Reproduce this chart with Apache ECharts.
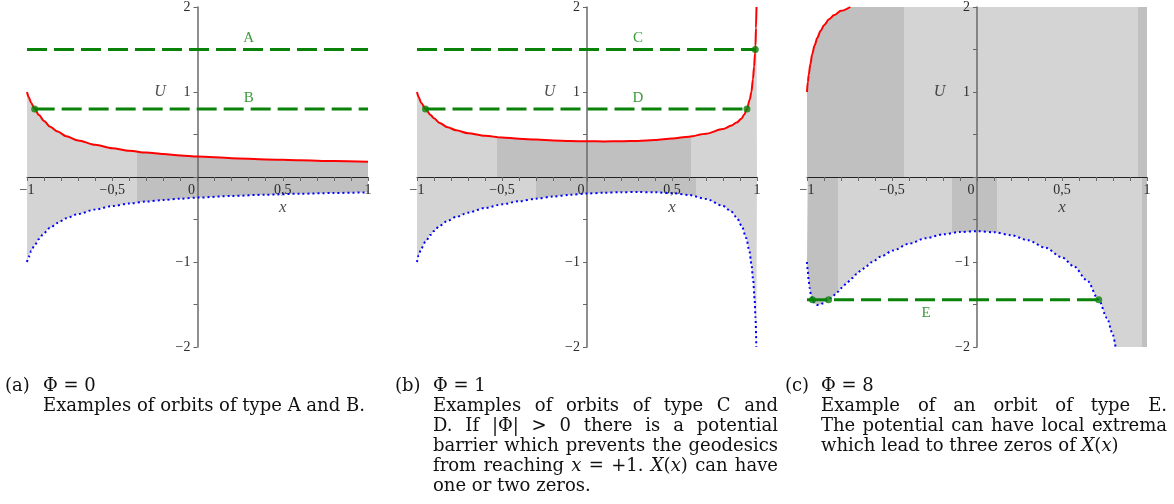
<!DOCTYPE html>
<html>
<head>
<meta charset="utf-8">
<script src="https://cdn.jsdelivr.net/npm/echarts@6/dist/echarts.min.js"></script>
<style>
  html, body { margin: 0; padding: 0; background: #fff; }
  #chart { width: 1174px; height: 504px; }
</style>
</head>
<body>
<div id="chart"></div>
<script>
// ---------------- data ----------------
// Effective potential branches U+(x) (red) and U-(x) (blue) for Phi = 0, 1, 8.
const redA = [[-1, 1.0], [-0.99, 0.94], [-0.975, 0.87], [-0.955, 0.80], [-0.93, 0.73], [-0.9, 0.66],
  [-0.867, 0.595], [-0.82, 0.535], [-0.77, 0.48], [-0.7, 0.43], [-0.6, 0.378], [-0.5, 0.338],
  [-0.4, 0.309], [-0.3, 0.287], [-0.2, 0.27], [-0.1, 0.254], [0, 0.241], [0.2, 0.222], [0.4, 0.207],
  [0.6, 0.196], [0.8, 0.187], [1, 0.18]];
const blueA = [[-1, -1.0], [-0.99, -0.94], [-0.975, -0.87], [-0.955, -0.80], [-0.93, -0.73],
  [-0.9, -0.66], [-0.867, -0.6], [-0.82, -0.54], [-0.77, -0.485], [-0.7, -0.435], [-0.6, -0.382],
  [-0.5, -0.342], [-0.4, -0.312], [-0.3, -0.289], [-0.2, -0.271], [-0.1, -0.255], [0, -0.242],
  [0.2, -0.223], [0.4, -0.208], [0.6, -0.197], [0.8, -0.188], [1, -0.18]];

const redB = [[-1, 1.0], [-0.99, 0.94], [-0.975, 0.87], [-0.95, 0.80], [-0.92, 0.73], [-0.9, 0.69],
  [-0.867, 0.635], [-0.82, 0.585], [-0.77, 0.55], [-0.7, 0.515], [-0.6, 0.485], [-0.5, 0.465],
  [-0.4, 0.45], [-0.3, 0.44], [-0.2, 0.43], [-0.1, 0.424], [0, 0.42], [0.1, 0.419], [0.2, 0.42],
  [0.3, 0.425], [0.4, 0.435], [0.5, 0.452], [0.6, 0.475], [0.7, 0.51], [0.8, 0.565], [0.85, 0.605],
  [0.88, 0.64], [0.908, 0.684], [0.925, 0.735], [0.941, 0.80], [0.957, 0.91], [0.967, 1.0],
  [0.976, 1.15], [0.983, 1.3], [0.988, 1.45], [0.991, 1.55], [0.994, 1.75], [0.997, 2.0]];
const blueB = [[-1, -1.0], [-0.99, -0.92], [-0.975, -0.84], [-0.95, -0.76], [-0.92, -0.68],
  [-0.9, -0.635], [-0.867, -0.575], [-0.82, -0.515], [-0.77, -0.47], [-0.7, -0.42], [-0.6, -0.365],
  [-0.5, -0.322], [-0.4, -0.285], [-0.3, -0.255], [-0.2, -0.23], [-0.1, -0.21], [0, -0.195],
  [0.1, -0.185], [0.2, -0.179], [0.3, -0.177], [0.4, -0.18], [0.5, -0.19], [0.6, -0.212],
  [0.7, -0.258], [0.8, -0.34], [0.85, -0.41], [0.88, -0.475], [0.91, -0.575], [0.937, -0.72],
  [0.955, -0.87], [0.967, -1.02], [0.977, -1.2], [0.986, -1.44], [0.991, -1.65], [0.996, -2.0]];

const redC = [[-1, 1.0], [-0.995, 1.12], [-0.99, 1.2], [-0.98, 1.33], [-0.97, 1.44], [-0.955, 1.55],
  [-0.94, 1.635], [-0.92, 1.72], [-0.9, 1.785], [-0.87, 1.855], [-0.84, 1.905], [-0.8, 1.955], [-0.745, 2.0]];
const blueC = [[-1, -1.0], [-0.996, -1.1], [-0.99, -1.22], [-0.985, -1.3], [-0.977, -1.38],
  [-0.968, -1.445], [-0.955, -1.49], [-0.94, -1.505], [-0.925, -1.5], [-0.91, -1.488],
  [-0.873, -1.445], [-0.85, -1.405], [-0.82, -1.352], [-0.794, -1.302], [-0.765, -1.245],
  [-0.735, -1.19], [-0.71, -1.145], [-0.68, -1.095], [-0.65, -1.048], [-0.62, -1.003],
  [-0.559, -0.93], [-0.495, -0.865], [-0.4, -0.785], [-0.3, -0.72], [-0.2, -0.675], [-0.1, -0.647],
  [0, -0.638], [0.1, -0.65], [0.2, -0.685], [0.3, -0.745], [0.4, -0.83], [0.5, -0.945],
  [0.569, -1.05], [0.647, -1.215], [0.716, -1.445], [0.765, -1.66], [0.795, -1.83], [0.815, -2.0]];

// Energy levels of the sample orbits and their turning points.
const levelsA = [{ name: 'A', u: 1.5, x0: -1, x1: 1 }, { name: 'B', u: 0.8, x0: -0.955, x1: 1 }];
const levelsB = [{ name: 'C', u: 1.5, x0: -1, x1: 0.99 }, { name: 'D', u: 0.8, x0: -0.95, x1: 0.941 }];
const levelsC = [{ name: 'E', u: -1.445, x0: -1, x1: 0.716 }];
const turnsA = [[-0.955, 0.8]];
const turnsB = [[0.99, 1.5], [-0.95, 0.8], [0.941, 0.8]];
const turnsC = [[-0.968, -1.445], [-0.873, -1.445], [0.716, -1.445]];

// Shading bands between the branches: [from x, to x, tone] above and below U = 0.
const shadeUpperA = [[-1, -0.355, 'light'], [-0.355, 1, 'dark']];
const shadeLowerA = [[-1, -0.355, 'light'], [-0.355, 1, 'dark']];
const shadeUpperB = [[-1, -0.527, 'light'], [-0.527, 0.61, 'dark'], [0.61, 1, 'light']];
const shadeLowerB = [[-1, -0.298, 'light'], [-0.298, 0.639, 'dark'], [0.639, 1, 'light']];
const shadeUpperC = [[-1, -0.427, 'dark'], [-0.427, 0.945, 'light'], [0.945, 1, 'dark']];
const shadeLowerC = [[-1, -0.82, 'dark'], [-0.82, -0.147, 'light'], [-0.147, 0.12, 'dark'],
  [0.12, 0.97, 'light'], [0.97, 1, 'dark']];

// Tick labels
const xLabelValues = [-1, -0.5, 0, 0.5, 1];
const xLabelTexts = ['\u22121', '\u22120,5', '0', '0,5', '1'];
const yLabelValues = [-2, -1, 1, 2];
const yLabelTexts = ['\u22122', '\u22121', '1', '2'];

// Sub-captions
const captionA = { tag: '(a)', title: '\u03A6 = 0',
  lines: ['Examples of orbits of type A and B.'], justified: 0 };
const captionB = { tag: '(b)', title: '\u03A6 = 1',
  lines: ['Examples of orbits of type C and', 'D. If |\u03A6| > 0 there is a potential',
    'barrier which prevents the geodesics', 'from reaching *x* = +1. *X*(*x*) can have',
    'one or two zeros.'], justified: 4 };
const captionC = { tag: '(c)', title: '\u03A6 = 8',
  lines: ['Example of an orbit of type E.', 'The potential can have local extrema',
    'which lead to three zeros of *X*(*x*)'], justified: 2 };

// ---------------- layout & style ----------------
const X_MIN = -1, X_MAX = 1, Y_MIN = -2, Y_MAX = 2;
const LIGHT = '#d4d4d4', DARK = '#c0c0c0';
const RED = '#ff0000', BLUE = '#0000ff', GREEN = '#0a820a';
const AXIS_FONT = 'Liberation Serif';
const AXIS_FONT_SIZE = 14;
const GRID_BOXES = [{ left: 27, width: 341 }, { left: 417, width: 340 }, { left: 807, width: 340 }];
const GRID_TOP = 7, GRID_HEIGHT = 340;
const LEVEL_LABEL_X = [0.3, 0.3, -0.3];
const LEVEL_LABEL_SIDE = ['top', 'top', 'bottom'];
const U_NAME_AT = [-0.22, 1.0];
const X_NAME_AT = [0.5, -0.36];
const SMOOTH = 0.3;

const CAPTION_FONT = 'DejaVu Serif';
const CAPTION_SIZE = 18;
const CAPTION_BOXES = [
  { tagX: 5, textX: 43, right: 380 },
  { tagX: 395, textX: 433, right: 778 },
  { tagX: 785, textX: 821, right: 1167 }
];
const CAPTION_Y = 386, CAPTION_STEP = 20;

const panels = [
  { red: redA, blue: blueA, levels: levelsA, turns: turnsA, up: shadeUpperA, down: shadeLowerA, caption: captionA },
  { red: redB, blue: blueB, levels: levelsB, turns: turnsB, up: shadeUpperB, down: shadeLowerB, caption: captionB },
  { red: redC, blue: blueC, levels: levelsC, turns: turnsC, up: shadeUpperC, down: shadeLowerC, caption: captionC }
];

function labelIndex(values, v) {
  return values.findIndex(t => Math.abs(t - v) < 1e-6);
}

// Close a branch that leaves the plotting window along the window edge.
function fillOutline(curve, bound) {
  const pts = curve.slice();
  const last = pts[pts.length - 1];
  if (Math.abs(last[1]) >= Math.abs(bound) - 1e-9 && last[0] < X_MAX) pts.push([X_MAX, bound]);
  return pts;
}

function shadePieces(bands) {
  return bands.map((b, k) => {
    const p = { gte: b[0], color: b[2] === 'dark' ? DARK : LIGHT };
    if (k === bands.length - 1) p.lte = b[1] + 0.5; else p.lt = b[1];
    return p;
  });
}

const grid = [], xAxis = [], yAxis = [], series = [], visualMap = [];

panels.forEach((p, i) => {
  const box = GRID_BOXES[i];
  grid.push({ left: box.left, width: box.width, top: GRID_TOP, height: GRID_HEIGHT });
  // the axes cross at the origin: shift them from the grid edges to U = 0 and x = 0
  const xShift = -GRID_HEIGHT * (0 - Y_MIN) / (Y_MAX - Y_MIN);
  const yShift = -box.width * (0 - X_MIN) / (X_MAX - X_MIN);
  xAxis.push({
    type: 'value', gridIndex: i, min: X_MIN, max: X_MAX, interval: 0.1, z: 2,
    position: 'bottom', offset: xShift,
    axisLine: { onZero: false, lineStyle: { color: '#222', width: 1 } },
    axisTick: { show: true, length: 4, lineStyle: { color: '#666' } },
    splitLine: { show: false },
    axisLabel: {
      margin: 6, fontFamily: AXIS_FONT, fontSize: AXIS_FONT_SIZE, color: '#2a2a2a',
      showMinLabel: true, showMaxLabel: true,
      formatter: v => {
        const k = labelIndex(xLabelValues, v);
        if (k < 0) return '';
        return Math.abs(v) < 1e-9 ? '{z|' + xLabelTexts[k] + '}' : xLabelTexts[k];
      },
      rich: { z: { padding: [0, 12, 0, 0], fontFamily: AXIS_FONT, fontSize: AXIS_FONT_SIZE, color: '#2a2a2a' } }
    }
  });
  yAxis.push({
    type: 'value', gridIndex: i, min: Y_MIN, max: Y_MAX, interval: 0.5, z: 2,
    position: 'left', offset: yShift,
    axisLine: { onZero: false, lineStyle: { color: '#6a6a6a', width: 1.5 } },
    axisTick: { show: true, length: 4, lineStyle: { color: '#666' } },
    splitLine: { show: false },
    axisLabel: {
      margin: 7, fontFamily: AXIS_FONT, fontSize: AXIS_FONT_SIZE, color: '#2a2a2a',
      formatter: v => { const k = labelIndex(yLabelValues, v); return k < 0 ? '' : yLabelTexts[k]; }
    }
  });

  const common = { xAxisIndex: i, yAxisIndex: i, silent: true, animation: false };

  // shaded region between the branches
  [[fillOutline(p.red, Y_MAX), p.up], [fillOutline(p.blue, Y_MIN), p.down]].forEach(([pts, bands]) => {
    series.push(Object.assign({
      type: 'line', data: pts, smooth: SMOOTH, smoothMonotone: 'x', symbol: 'none', showSymbol: false,
      lineStyle: { width: 0, opacity: 0 }, areaStyle: { opacity: 1 }, z: 1
    }, common));
    visualMap.push({
      type: 'piecewise', show: false, dimension: 0, seriesIndex: series.length - 1,
      pieces: shadePieces(bands), outOfRange: { color: LIGHT }
    });
  });

  // branches
  series.push(Object.assign({
    type: 'line', data: p.red, smooth: SMOOTH, smoothMonotone: 'x', symbol: 'none',
    lineStyle: { color: RED, width: 2 }, z: 3
  }, common));
  series.push(Object.assign({
    type: 'line', data: p.blue, smooth: SMOOTH, smoothMonotone: 'x', symbol: 'none',
    lineStyle: { color: BLUE, width: 2, type: [2, 3] }, z: 3
  }, common));

  // energy levels
  p.levels.forEach(lv => {
    series.push(Object.assign({
      type: 'line', data: [[lv.x0, lv.u], [lv.x1, lv.u]], symbol: 'none',
      lineStyle: { color: GREEN, width: 3, type: [20, 7] }, z: 4
    }, common));
  });
  series.push(Object.assign({
    type: 'scatter', data: p.turns, symbol: 'circle', symbolSize: 7,
    itemStyle: { color: GREEN }, z: 5
  }, common));

  // level names and axis names
  const notes = p.levels.map(lv => ({
    value: [LEVEL_LABEL_X[i], lv.u],
    label: { show: true, formatter: lv.name, position: LEVEL_LABEL_SIDE[i],
      distance: LEVEL_LABEL_SIDE[i] === 'top' ? 3 : 5,
      fontFamily: AXIS_FONT, fontSize: 15, color: GREEN }
  }));
  notes.push({ value: U_NAME_AT, label: { show: true, formatter: 'U', position: 'inside',
    fontFamily: AXIS_FONT, fontStyle: 'italic', fontSize: 16, color: '#222' } });
  notes.push({ value: X_NAME_AT, label: { show: true, formatter: 'x', position: 'inside',
    fontFamily: AXIS_FONT, fontStyle: 'italic', fontSize: 17, color: '#222' } });
  series.push(Object.assign({
    type: 'scatter', data: notes, symbolSize: 1, itemStyle: { color: 'rgba(0,0,0,0)' }, z: 6
  }, common));
});

// ---------------- captions ----------------
const measureCtx = document.createElement('canvas').getContext('2d');
function fontOf(italic) {
  return (italic ? 'italic ' : '') + CAPTION_SIZE + 'px "' + CAPTION_FONT + '"';
}
function parseWord(w) {
  return w.split('*').map((t, k) => ({ t: t, it: k % 2 === 1 })).filter(s => s.t.length);
}
function segWidth(s) { measureCtx.font = fontOf(s.it); return measureCtx.measureText(s.t).width; }
function wordWidth(segs) { return segs.reduce((a, s) => a + segWidth(s), 0); }

function textEl(x, y, t, italic) {
  return {
    type: 'text', x: x, y: y, silent: true,
    style: { text: t, font: fontOf(italic), fill: '#111', verticalAlign: 'middle', textVerticalAlign: 'middle' }
  };
}

function layoutLine(line, x0, right, y, justify) {
  const words = line.split(' ').map(parseWord);
  const widths = words.map(wordWidth);
  const space = segWidth({ t: ' ', it: false });
  let gap = space;
  if (justify && words.length > 1) {
    const total = widths.reduce((a, b) => a + b, 0);
    gap = Math.max(space * 0.5, (right - x0 - total) / (words.length - 1));
  }
  const els = [];
  let x = x0;
  words.forEach((segs, k) => {
    let cx = x;
    segs.forEach(s => { els.push(textEl(cx, y, s.t, s.it)); cx += segWidth(s); });
    x += widths[k] + gap;
  });
  return els;
}

const graphic = [];
panels.forEach((p, i) => {
  const box = CAPTION_BOXES[i], c = p.caption;
  graphic.push(textEl(box.tagX, CAPTION_Y, c.tag, false));
  graphic.push(textEl(box.textX, CAPTION_Y, c.title, false));
  c.lines.forEach((ln, k) => {
    layoutLine(ln, box.textX, box.right, CAPTION_Y + CAPTION_STEP * (k + 1), k < c.justified)
      .forEach(e => graphic.push(e));
  });
});

const chart = echarts.init(document.getElementById('chart'), null, { renderer: 'canvas' });
chart.setOption({
  animation: false,
  backgroundColor: '#ffffff',
  grid: grid, xAxis: xAxis, yAxis: yAxis,
  visualMap: visualMap,
  series: series,
  graphic: graphic
});
</script>
</body>
</html>
